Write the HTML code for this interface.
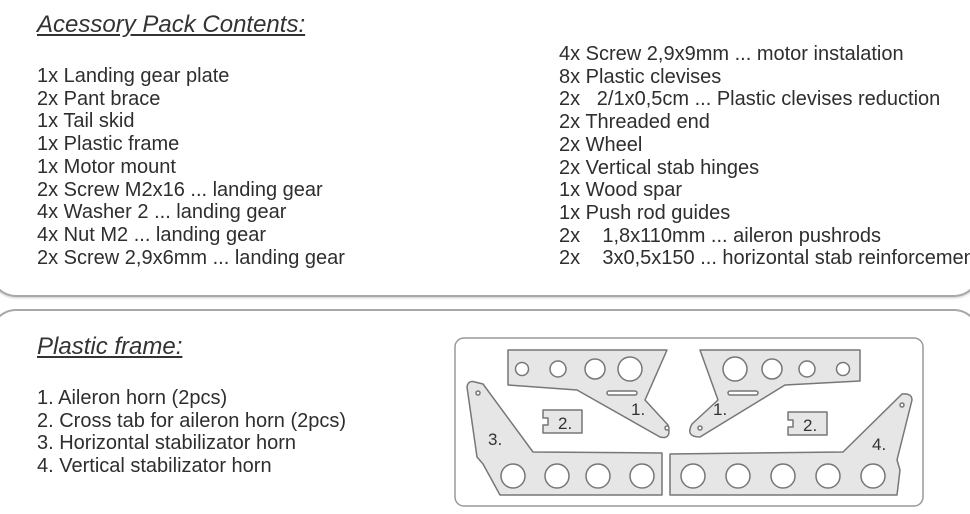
<!DOCTYPE html>
<html><head><meta charset="utf-8"><style>
html,body{margin:0;width:970px;height:514px;overflow:hidden}
body{background:#fff;font-family:"Liberation Sans",sans-serif;color:#2e2e2e}
#w{position:relative;width:970px;height:514px;overflow:hidden}
.box{position:absolute;border:2px solid #a8a8a8;border-radius:26px;box-shadow:0 1px 2px #ccc;box-sizing:border-box}
.t{position:absolute;font-size:24px;font-style:italic;text-decoration:underline;white-space:pre;color:#333}
.l{position:absolute;font-size:20px;line-height:22.7px;white-space:pre}
</style></head><body><div id="w">
<div class="box" style="left:-10px;top:0;width:990px;height:297px;border-top:none;border-top-left-radius:0;border-top-right-radius:0"></div>
<div class="box" style="left:-10px;top:309px;width:990px;height:205px;border-bottom:none;border-bottom-left-radius:0;border-bottom-right-radius:0;box-shadow:none"></div>
<div class="t" style="left:37px;top:11px">Acessory Pack Contents:</div>
<div class="l" style="left:37px;top:65px">1x Landing gear plate
2x Pant brace
1x Tail skid
1x Plastic frame
1x Motor mount
2x Screw M2x16 ... landing gear
4x Washer 2 ... landing gear
4x Nut M2 ... landing gear
2x Screw 2,9x6mm ... landing gear</div>
<div class="l" style="left:559px;top:43px;width:411px;overflow:hidden">4x Screw 2,9x9mm ... motor instalation
8x Plastic clevises
2x   2/1x0,5cm ... Plastic clevises reduction
2x Threaded end
2x Wheel
2x Vertical stab hinges
1x Wood spar
1x Push rod guides
2x    1,8x110mm ... aileron pushrods
2x    3x0,5x150 ... horizontal stab reinforcement</div>
<div class="t" style="left:37px;top:333px">Plastic frame:</div>
<div class="l" style="left:37px;top:387px">1. Aileron horn (2pcs)
2. Cross tab for aileron horn (2pcs)
3. Horizontal stabilizator horn
4. Vertical stabilizator horn</div>
<svg style="position:absolute;left:0;top:0" width="970" height="514">
<g stroke="#777" stroke-width="1.5" fill="#e6e6e6" stroke-linejoin="round">
<rect x="455" y="338" width="468" height="168" rx="9" fill="#fff" stroke="#999"/>
<path d="M508 350 L667 350 L645 400 L668 425 Q672 440 660 437 L577 390 L508 385 Z"/>
<path d="M700 350 L860 350 L860 381 L785 385 L700 437 Q685 437 692 424 L718 400 Z"/>
<path d="M467 387 Q468 380 475 382 L483 384 L533 452 L662 453 L662 495 L500 495 L483 464 L477 457 Z"/>
<path d="M670 454 L843 452 L902 394 Q912 393 912 400 L897 460 L900 470 L897 495 L670 495 Z"/>
<path d="M543 410 L582 410 L582 433 L543 433 L543 425 L548 425 L548 418 L543 418 Z"/>
<path d="M788 412 L827 412 L827 435 L788 435 L788 427 L793 427 L793 420 L788 420 Z"/>
</g>
<g stroke="#777" stroke-width="1.5" fill="#fff">
<circle cx="522" cy="369" r="6.5"/><circle cx="558" cy="369" r="8"/><circle cx="595" cy="369" r="10"/><circle cx="630" cy="369" r="12"/>
<circle cx="735" cy="369" r="12"/><circle cx="772" cy="369" r="10"/><circle cx="807" cy="369" r="8"/><circle cx="843" cy="369" r="6.5"/>
<circle cx="513" cy="476" r="12"/><circle cx="557" cy="476" r="12"/><circle cx="598" cy="476" r="12"/><circle cx="642" cy="476" r="12"/>
<circle cx="693" cy="476" r="12"/><circle cx="738" cy="476" r="12"/><circle cx="783" cy="476" r="12"/><circle cx="828" cy="476" r="12"/><circle cx="873" cy="476" r="12"/>
<circle cx="478" cy="393" r="2"/><circle cx="667" cy="428" r="2"/><circle cx="700" cy="428" r="2"/><circle cx="902" cy="405" r="2"/>
<rect x="607" y="391" width="30" height="4" rx="2"/><rect x="728" y="391" width="30" height="4" rx="2"/>
</g>
<g font-family="Liberation Sans,sans-serif" font-size="17" fill="#333">
<text x="631" y="415">1.</text><text x="713" y="415">1.</text>
<text x="558" y="429">2.</text><text x="803" y="431">2.</text>
<text x="488" y="445">3.</text><text x="872" y="450">4.</text>
</g>
</svg>
</div></body></html>
